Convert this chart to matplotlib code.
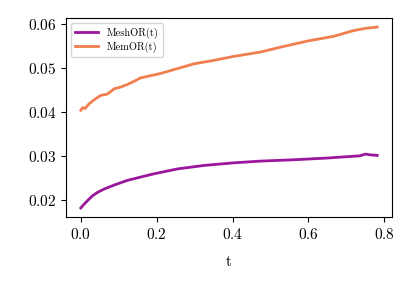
import matplotlib
matplotlib.use('Agg')
import matplotlib.pyplot as plt

plt.rcParams['font.family'] = 'serif'
plt.rcParams['font.serif'] = ['cmr10']
plt.rcParams['mathtext.fontset'] = 'cm'
plt.rcParams['axes.formatter.use_mathtext'] = True

# values
t_mesh = [0.0, 0.008, 0.018, 0.031, 0.045, 0.061, 0.09, 0.123, 0.16, 0.193, 0.254,
          0.324, 0.403, 0.474, 0.561, 0.65, 0.718, 0.735, 0.75, 0.765, 0.781]
mesh_or = [0.0181, 0.0189, 0.0198, 0.0209, 0.0217, 0.0224, 0.0234, 0.0244, 0.0252, 0.0259, 0.0270,
           0.0278, 0.0284, 0.0288, 0.0291, 0.0295, 0.0299, 0.0300, 0.0304, 0.0302, 0.0301]

t_mem = [0.0, 0.005, 0.011, 0.022, 0.04, 0.053, 0.07, 0.088, 0.105, 0.123, 0.14, 0.158,
         0.21, 0.254, 0.298, 0.351, 0.403, 0.474, 0.526, 0.597, 0.667, 0.719, 0.75, 0.781]
mem_or = [0.0404, 0.0410, 0.0408, 0.0419, 0.0431, 0.0438, 0.0441, 0.0453, 0.0457, 0.0463, 0.0470, 0.0478,
          0.0488, 0.0499, 0.0510, 0.0518, 0.0527, 0.0537, 0.0548, 0.0562, 0.0573, 0.0586, 0.0591, 0.0594]

fig = plt.figure(figsize=(4.16, 2.91), dpi=100)
ax = fig.add_axes([66 / 416, 1 - 217 / 291, 326 / 416, 199 / 291])

ax.plot(t_mesh, mesh_or, color='#9a179b', linewidth=2, label='MeshOR(t)')
ax.plot(t_mem, mem_or, color='#f07f4f', linewidth=2, label='MemOR(t)')

ax.set_xticks([0.0, 0.2, 0.4, 0.6, 0.8])
ax.set_yticks([0.02, 0.03, 0.04, 0.05, 0.06])
ax.set_xlabel('t', fontsize=11, labelpad=10)
ax.tick_params(labelsize=11)
ax.legend(loc='upper left', fontsize=7.5, handlelength=2.2, borderpad=0.4, labelspacing=0.3)

plt.savefig('out.png', dpi=100)
